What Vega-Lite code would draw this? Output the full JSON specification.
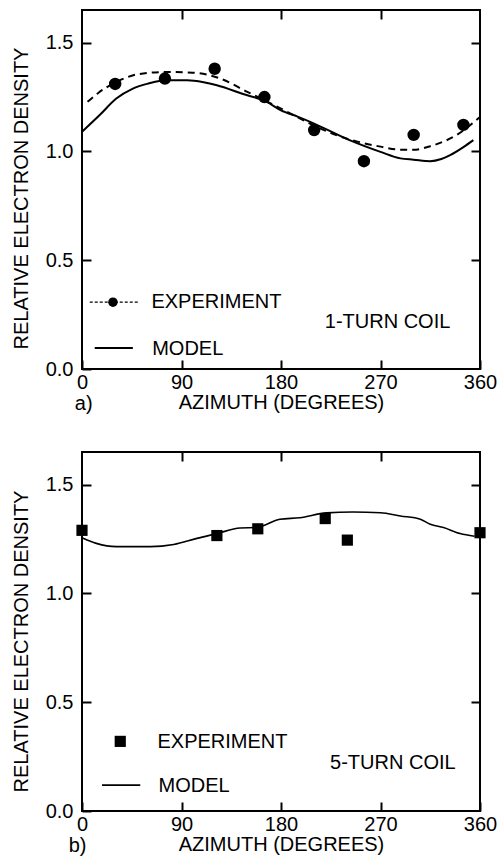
{
  "$schema": "https://vega.github.io/schema/vega-lite/v6.json",
  "background": "white",
  "padding": {"left": 10, "top": 8, "right": 1, "bottom": 1},
  "spacing": 34,
  "config": {
    "font": "Liberation Sans",
    "view": {"stroke": "black", "strokeWidth": 2},
    "axis": {
      "grid": false,
      "domain": false,
      "tickColor": "black",
      "tickWidth": 2,
      "tickSize": -9,
      "labelColor": "black",
      "labelFont": "Liberation Sans",
      "labelFontSize": 20,
      "titleColor": "black",
      "titleFont": "Liberation Sans",
      "titleFontSize": 20,
      "titleFontWeight": "normal",
      "labelOverlap": false,
      "labelFlush": false,
      "labelBound": false
    }
  },
  "datasets": {
    "a_points": [
      {"azimuth": 30, "density": 1.31},
      {"azimuth": 75, "density": 1.335},
      {"azimuth": 120, "density": 1.38},
      {"azimuth": 165, "density": 1.25},
      {"azimuth": 210, "density": 1.098},
      {"azimuth": 255, "density": 0.955},
      {"azimuth": 300, "density": 1.076},
      {"azimuth": 345, "density": 1.122}
    ],
    "a_fit": [
      {"azimuth": 5, "density": 1.228},
      {"azimuth": 15, "density": 1.27},
      {"azimuth": 31, "density": 1.319},
      {"azimuth": 52, "density": 1.356},
      {"azimuth": 76, "density": 1.365},
      {"azimuth": 100, "density": 1.362},
      {"azimuth": 125, "density": 1.335},
      {"azimuth": 149, "density": 1.275},
      {"azimuth": 165, "density": 1.235},
      {"azimuth": 180, "density": 1.197},
      {"azimuth": 209, "density": 1.121},
      {"azimuth": 230, "density": 1.075},
      {"azimuth": 250, "density": 1.044},
      {"azimuth": 270, "density": 1.022},
      {"azimuth": 288, "density": 1.008},
      {"azimuth": 300, "density": 1.008},
      {"azimuth": 315, "density": 1.024},
      {"azimuth": 339, "density": 1.076},
      {"azimuth": 360, "density": 1.158}
    ],
    "a_model": [
      {"azimuth": 0, "density": 1.09},
      {"azimuth": 16, "density": 1.167},
      {"azimuth": 31, "density": 1.243},
      {"azimuth": 46, "density": 1.289},
      {"azimuth": 60, "density": 1.312},
      {"azimuth": 76, "density": 1.327},
      {"azimuth": 95, "density": 1.327},
      {"azimuth": 110, "density": 1.318},
      {"azimuth": 122, "density": 1.304},
      {"azimuth": 145, "density": 1.265},
      {"azimuth": 167, "density": 1.228},
      {"azimuth": 180, "density": 1.189},
      {"azimuth": 195, "density": 1.16},
      {"azimuth": 210, "density": 1.128},
      {"azimuth": 242, "density": 1.052},
      {"azimuth": 270, "density": 0.998},
      {"azimuth": 288, "density": 0.968},
      {"azimuth": 300, "density": 0.962},
      {"azimuth": 315, "density": 0.955},
      {"azimuth": 325, "density": 0.965},
      {"azimuth": 333, "density": 0.983},
      {"azimuth": 345, "density": 1.02},
      {"azimuth": 354, "density": 1.052}
    ],
    "b_points": [
      {"azimuth": 0, "density": 1.29},
      {"azimuth": 122, "density": 1.266},
      {"azimuth": 159, "density": 1.297},
      {"azimuth": 220, "density": 1.344},
      {"azimuth": 240, "density": 1.245},
      {"azimuth": 360, "density": 1.279}
    ],
    "b_model": [
      {"azimuth": 0, "density": 1.256},
      {"azimuth": 13, "density": 1.23},
      {"azimuth": 31, "density": 1.215},
      {"azimuth": 62, "density": 1.215},
      {"azimuth": 83, "density": 1.225},
      {"azimuth": 104, "density": 1.253},
      {"azimuth": 122, "density": 1.275},
      {"azimuth": 143, "density": 1.301},
      {"azimuth": 158, "density": 1.303},
      {"azimuth": 179, "density": 1.341},
      {"azimuth": 197, "density": 1.348},
      {"azimuth": 221, "density": 1.37},
      {"azimuth": 245, "density": 1.374},
      {"azimuth": 270, "density": 1.371},
      {"azimuth": 288, "density": 1.356},
      {"azimuth": 306, "density": 1.341},
      {"azimuth": 315, "density": 1.318},
      {"azimuth": 327, "density": 1.303},
      {"azimuth": 342, "density": 1.275},
      {"azimuth": 355, "density": 1.263}
    ]
  },
  "vconcat": [
    {
      "width": 398,
      "height": 359,
      "resolve": {"axis": {"x": "independent", "y": "independent"}},
      "layer": [
        {
          "data": {"name": "a_fit"},
          "mark": {"type": "line", "color": "black", "strokeWidth": 2, "strokeDash": [7, 5], "interpolate": "monotone"},
          "encoding": {
            "x": {"field": "azimuth", "type": "quantitative", "scale": {"domain": [0, 360], "nice": false},
              "axis": {"orient": "bottom", "values": [0, 90, 180, 270, 360], "labelPadding": 12, "title": "AZIMUTH (DEGREES)", "titlePadding": 0}},
            "y": {"field": "density", "type": "quantitative", "scale": {"domain": [0, 1.65], "nice": false, "zero": false},
              "axis": {"orient": "left", "values": [0, 0.5, 1, 1.5], "format": ".1f", "labelPadding": 18, "title": "RELATIVE ELECTRON DENSITY", "titlePadding": 14, "titleY": 188}}
          }
        },
        {
          "data": {"name": "a_model"},
          "mark": {"type": "line", "color": "black", "strokeWidth": 2, "interpolate": "monotone"},
          "encoding": {
            "x": {"field": "azimuth", "type": "quantitative", "scale": {"domain": [0, 360], "nice": false},
              "axis": {"orient": "top", "values": [90, 180, 270], "labels": false, "title": null}},
            "y": {"field": "density", "type": "quantitative", "scale": {"domain": [0, 1.65], "nice": false, "zero": false},
              "axis": {"orient": "right", "values": [0.5, 1, 1.5], "labels": false, "title": null}}
          }
        },
        {
          "data": {"name": "a_points"},
          "mark": {"type": "point", "shape": "circle", "filled": true, "color": "black", "opacity": 1, "size": 154},
          "encoding": {
            "x": {"field": "azimuth", "type": "quantitative", "axis": null},
            "y": {"field": "density", "type": "quantitative", "axis": null}
          }
        },
        {
          "data": {"values": [{}]},
          "mark": {"type": "rule", "color": "black", "strokeWidth": 1.2, "strokeDash": [3, 2]},
          "encoding": {
            "x": {"datum": 7, "type": "quantitative", "axis": null},
            "x2": {"datum": 52},
            "y": {"datum": 0.307, "type": "quantitative", "axis": null}
          }
        },
        {
          "data": {"values": [{}]},
          "mark": {"type": "point", "shape": "circle", "filled": true, "color": "black", "opacity": 1, "size": 90},
          "encoding": {
            "x": {"datum": 28, "type": "quantitative", "axis": null},
            "y": {"datum": 0.307, "type": "quantitative", "axis": null}
          }
        },
        {
          "data": {"values": [{}]},
          "mark": {"type": "rule", "color": "black", "strokeWidth": 2},
          "encoding": {
            "x": {"datum": 11.5, "type": "quantitative", "axis": null},
            "x2": {"datum": 46},
            "y": {"datum": 0.096, "type": "quantitative", "axis": null}
          }
        },
        {
          "data": {"values": [{}]},
          "mark": {"type": "text", "text": "EXPERIMENT", "align": "left", "baseline": "alphabetic", "fontSize": 20, "color": "black"},
          "encoding": {
            "x": {"datum": 62.8, "type": "quantitative", "axis": null},
            "y": {"datum": 0.28, "type": "quantitative", "axis": null}
          }
        },
        {
          "data": {"values": [{}]},
          "mark": {"type": "text", "text": "MODEL", "align": "left", "baseline": "alphabetic", "fontSize": 20, "color": "black"},
          "encoding": {
            "x": {"datum": 63.5, "type": "quantitative", "axis": null},
            "y": {"datum": 0.066, "type": "quantitative", "axis": null}
          }
        },
        {
          "data": {"values": [{}]},
          "mark": {"type": "text", "text": "1-TURN COIL", "align": "left", "baseline": "alphabetic", "fontSize": 20, "color": "black"},
          "encoding": {
            "x": {"datum": 219.6, "type": "quantitative", "axis": null},
            "y": {"datum": 0.188, "type": "quantitative", "axis": null}
          }
        },
        {
          "data": {"values": [{}]},
          "mark": {"type": "text", "text": "a)", "align": "center", "baseline": "alphabetic", "fontSize": 20, "color": "black"},
          "encoding": {
            "x": {"datum": 1.5, "type": "quantitative", "axis": null},
            "y": {"datum": -0.19, "type": "quantitative", "axis": null}
          }
        }
      ]
    },
    {
      "width": 398,
      "height": 359,
      "resolve": {"axis": {"x": "independent", "y": "independent"}},
      "layer": [
        {
          "data": {"name": "b_model"},
          "mark": {"type": "line", "color": "black", "strokeWidth": 1.6, "interpolate": "monotone"},
          "encoding": {
            "x": {"field": "azimuth", "type": "quantitative", "scale": {"domain": [0, 360], "nice": false},
              "axis": {"orient": "bottom", "values": [0, 90, 180, 270, 360], "labelPadding": 12, "title": "AZIMUTH (DEGREES)", "titlePadding": 0}},
            "y": {"field": "density", "type": "quantitative", "scale": {"domain": [0, 1.65], "nice": false, "zero": false},
              "axis": {"orient": "left", "values": [0, 0.5, 1, 1.5], "format": ".1f", "labelPadding": 18, "title": "RELATIVE ELECTRON DENSITY", "titlePadding": 14, "titleY": 189}}
          }
        },
        {
          "data": {"name": "b_points"},
          "mark": {"type": "point", "shape": "square", "filled": true, "color": "black", "opacity": 1, "size": 125},
          "encoding": {
            "x": {"field": "azimuth", "type": "quantitative", "scale": {"domain": [0, 360], "nice": false},
              "axis": {"orient": "top", "values": [90, 180, 270], "labels": false, "title": null}},
            "y": {"field": "density", "type": "quantitative", "scale": {"domain": [0, 1.65], "nice": false, "zero": false},
              "axis": {"orient": "right", "values": [0.5, 1, 1.5], "labels": false, "title": null}}
          }
        },
        {
          "data": {"values": [{}]},
          "mark": {"type": "point", "shape": "square", "filled": true, "color": "black", "opacity": 1, "size": 125},
          "encoding": {
            "x": {"datum": 34.6, "type": "quantitative", "axis": null},
            "y": {"datum": 0.32, "type": "quantitative", "axis": null}
          }
        },
        {
          "data": {"values": [{}]},
          "mark": {"type": "rule", "color": "black", "strokeWidth": 1.6},
          "encoding": {
            "x": {"datum": 18.1, "type": "quantitative", "axis": null},
            "x2": {"datum": 52.7},
            "y": {"datum": 0.119, "type": "quantitative", "axis": null}
          }
        },
        {
          "data": {"values": [{}]},
          "mark": {"type": "text", "text": "EXPERIMENT", "align": "left", "baseline": "alphabetic", "fontSize": 20, "color": "black"},
          "encoding": {
            "x": {"datum": 68.3, "type": "quantitative", "axis": null},
            "y": {"datum": 0.289, "type": "quantitative", "axis": null}
          }
        },
        {
          "data": {"values": [{}]},
          "mark": {"type": "text", "text": "MODEL", "align": "left", "baseline": "alphabetic", "fontSize": 20, "color": "black"},
          "encoding": {
            "x": {"datum": 69.2, "type": "quantitative", "axis": null},
            "y": {"datum": 0.088, "type": "quantitative", "axis": null}
          }
        },
        {
          "data": {"values": [{}]},
          "mark": {"type": "text", "text": "5-TURN COIL", "align": "left", "baseline": "alphabetic", "fontSize": 20, "color": "black"},
          "encoding": {
            "x": {"datum": 224.4, "type": "quantitative", "axis": null},
            "y": {"datum": 0.192, "type": "quantitative", "axis": null}
          }
        },
        {
          "data": {"values": [{}]},
          "mark": {"type": "text", "text": "b)", "align": "center", "baseline": "alphabetic", "fontSize": 20, "color": "black"},
          "encoding": {
            "x": {"datum": -4, "type": "quantitative", "axis": null},
            "y": {"datum": -0.19, "type": "quantitative", "axis": null}
          }
        }
      ]
    }
  ]
}
